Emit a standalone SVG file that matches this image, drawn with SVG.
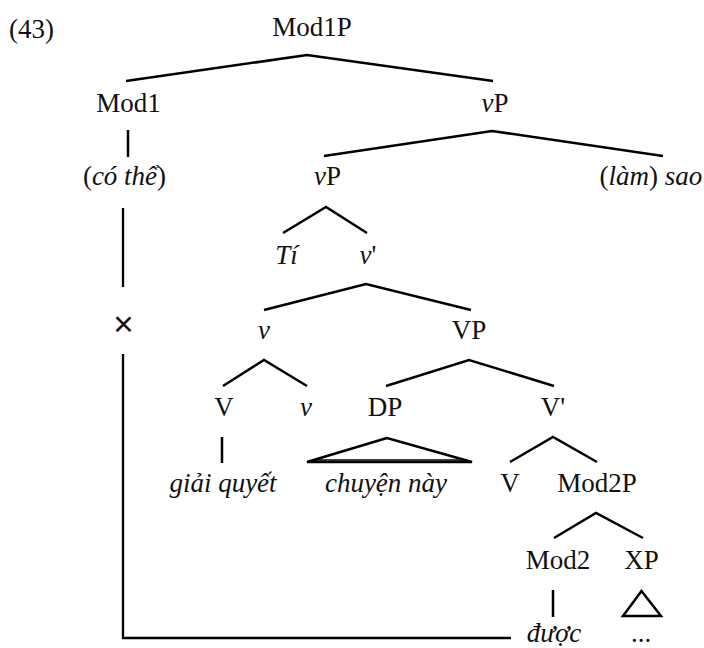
<svg xmlns="http://www.w3.org/2000/svg" width="704" height="648" viewBox="0 0 704 648">
  <style>
    text { font-family: "Liberation Serif", "Times New Roman", serif; font-size: 27px; fill: #111; text-anchor: middle; }
    .i { font-style: italic; }
    .lbl { text-anchor: start; }
    .x { font-family: "Liberation Sans", Arial, sans-serif; font-size: 35px; }
    .edge { stroke: #000; stroke-width: 2.5; fill: none; stroke-linecap: butt; stroke-linejoin: miter; }
    .tri { stroke: #000; stroke-width: 2.5; fill: none; stroke-linejoin: miter; }
    .move { stroke: #000; stroke-width: 2.3; fill: none; }
  </style>

  <rect width="704" height="648" fill="#fff"/>

  <text class="lbl" x="9" y="38">(43)</text>

  <!-- branches of the tree -->
  <g id="connectors">
    <polyline class="edge" points="126,81 307,55 493,81"/>
    <line class="edge" x1="128" y1="130" x2="128" y2="157"/>
    <polyline class="edge" points="324,156 492,131 663,156"/>
    <polyline class="edge" points="283,233 326,207 367,233"/>
    <polyline class="edge" points="264,310 366,284 471,310"/>
    <polyline class="edge" points="223,386 264,360 307,386"/>
    <polyline class="edge" points="386,386 469,360 554,386"/>
    <line class="edge" x1="222" y1="437" x2="222" y2="463"/>
    <polygon class="tri" points="387,438 307,462 472,462"/>
    <line stroke="#000" stroke-width="1.5" x1="314" y1="460" x2="466" y2="460"/>
    <polyline class="edge" points="510,462 553,437 597,462"/>
    <polyline class="edge" points="554,538 596,513 643,538"/>
    <line class="edge" x1="553" y1="590" x2="553" y2="617"/>
    <polygon class="tri" points="641.5,591 623,616 661,616"/>
    <!-- movement path from được up to the crossed-out position -->
    <line class="move" x1="123" y1="208" x2="123" y2="287"/>
    <polyline class="move" points="123,354 123,638 511,638"/>
  </g>

  <g id="n-mod1p"><text x="312" y="36">Mod1P</text></g>
  <g id="n-mod1"><text x="128.5" y="112">Mod1</text></g>
  <g id="n-vp1"><text x="495" y="112"><tspan class="i">v</tspan>P</text></g>
  <g id="n-cothe"><text x="124.5" y="185">(<tspan class="i">có thể</tspan>)</text></g>
  <g id="n-vp2"><text x="327.5" y="185"><tspan class="i">v</tspan>P</text></g>
  <g id="n-lamsao"><text x="651" y="185">(<tspan class="i">làm</tspan>) <tspan class="i">sao</tspan></text></g>
  <g id="n-ti"><text class="i" x="286.5" y="264">Tí</text></g>
  <g id="n-vbar"><text x="368" y="264"><tspan class="i">v</tspan>'</text></g>
  <g id="n-cross"><text class="x" x="123.5" y="336">×</text></g>
  <g id="n-v1"><text class="i" x="264" y="339">v</text></g>
  <g id="n-VP"><text x="469" y="339">VP</text></g>
  <g id="n-V1"><text x="224" y="416">V</text></g>
  <g id="n-v2"><text class="i" x="306" y="416">v</text></g>
  <g id="n-DP"><text x="385" y="416">DP</text></g>
  <g id="n-Vbar"><text x="553" y="416">V'</text></g>
  <g id="n-giaiquyet"><text class="i" x="223" y="492">giải quyết</text></g>
  <g id="n-chuyennay"><text class="i" x="386" y="492">chuyện này</text></g>
  <g id="n-V2"><text x="510" y="492">V</text></g>
  <g id="n-mod2p"><text x="597" y="492">Mod2P</text></g>
  <g id="n-mod2"><text x="558" y="569">Mod2</text></g>
  <g id="n-XP"><text x="641.5" y="569">XP</text></g>
  <g id="n-duoc"><text class="i" x="554" y="642">được</text></g>
  <g id="n-dots"><text x="641" y="642">...</text></g>
</svg>
